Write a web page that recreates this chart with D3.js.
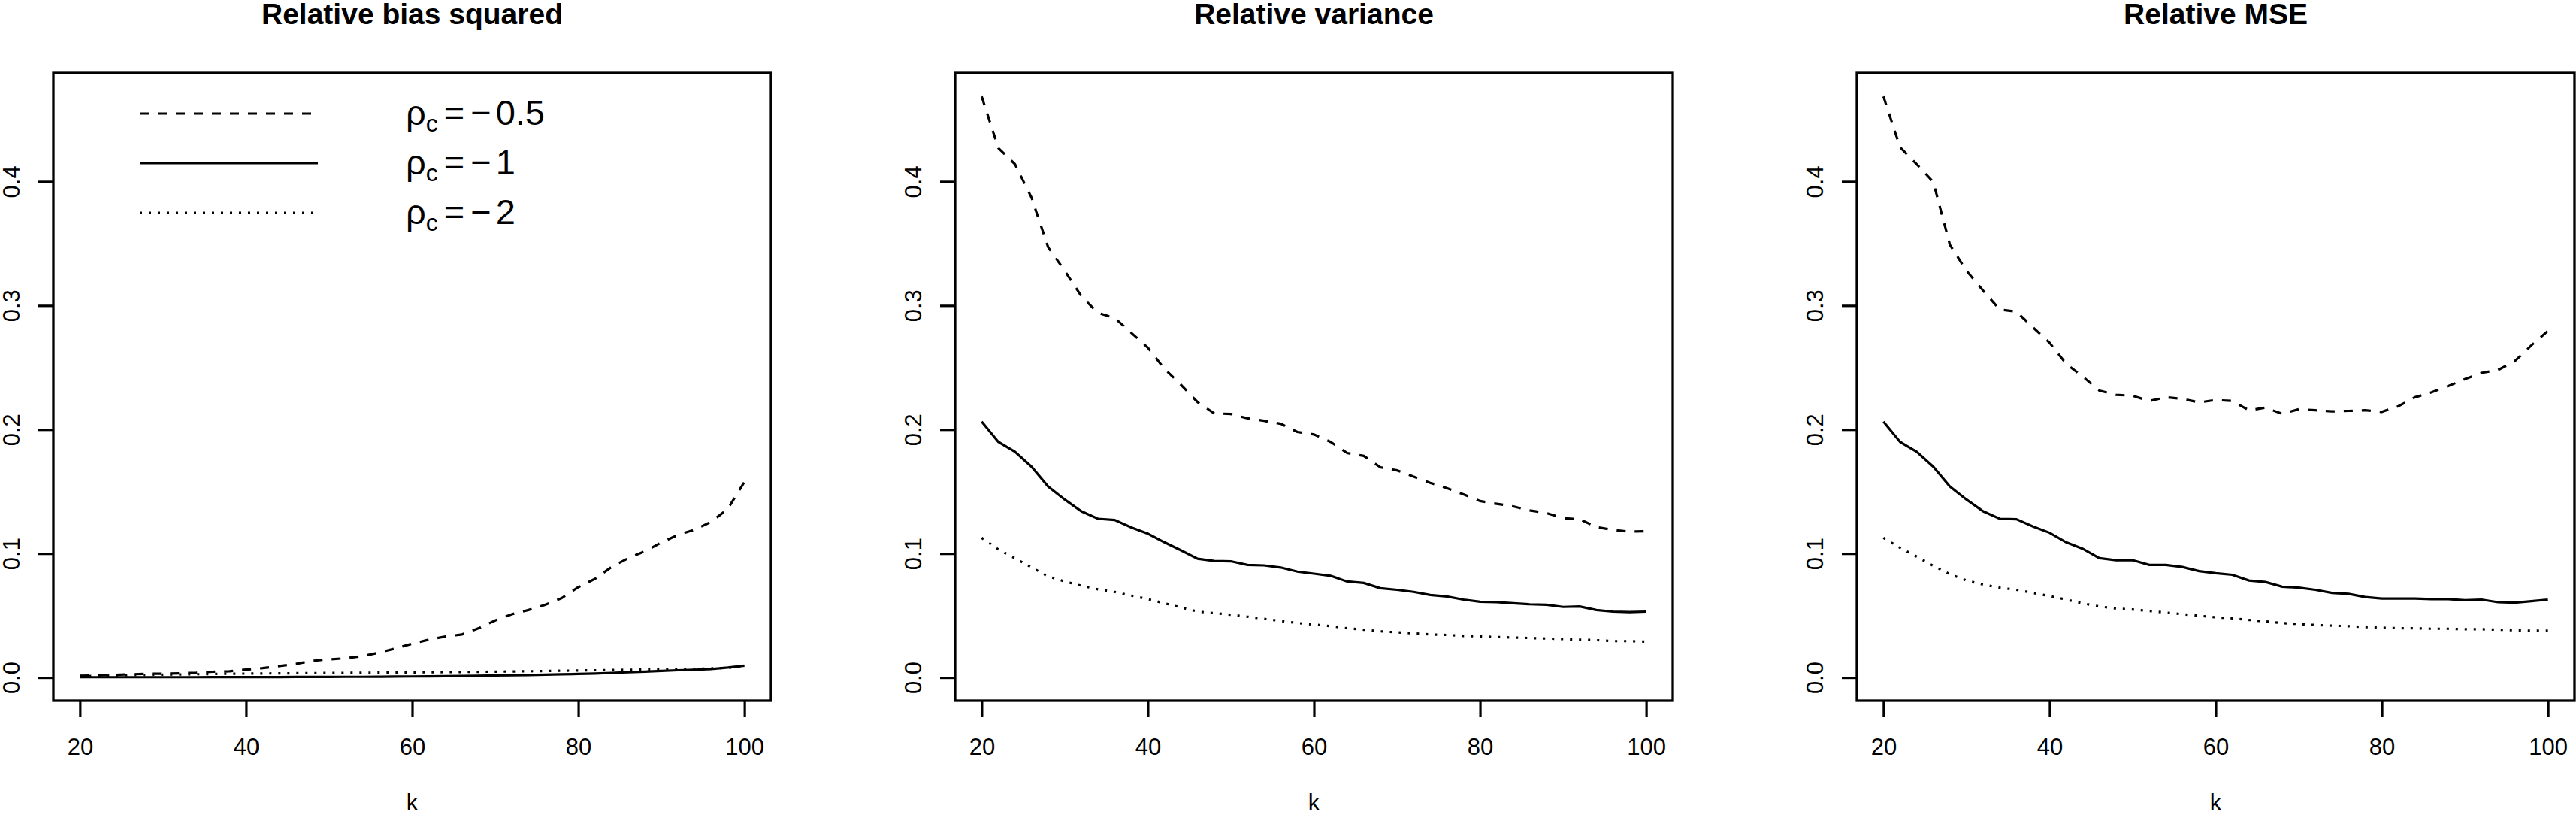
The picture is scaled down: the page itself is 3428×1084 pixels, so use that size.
<!DOCTYPE html>
<html>
<head>
<meta charset="utf-8">
<script src="https://cdnjs.cloudflare.com/ajax/libs/d3/7.8.5/d3.min.js"></script>
<style>
  body { margin: 0; background: #fff; }
  svg { display: block; font-family: "Liberation Sans", Arial, Helvetica, sans-serif; }
</style>
</head>
<body>
<div id="my_dataviz"></div>
<script>
// k values (x axis)
const kValues = [20,22,24,26,28,30,32,34,36,38,40,42,44,46,48,50,52,54,56,58,60,
                 62,64,66,68,70,72,74,76,78,80,82,84,86,88,90,92,94,96,98,100];

// Relative bias squared
const biasHalf = [0.0013,0.0017,0.002,0.0025,0.003,0.003,0.0033,0.0038,0.0046,0.005,0.0063,
  0.0075,0.0092,0.0109,0.0134,0.0146,0.0155,0.0172,0.020,0.0234,0.0272,0.0305,0.033,0.0347,
  0.0397,0.046,0.051,0.0544,0.0586,0.064,0.0728,0.0795,0.0891,0.0962,0.1017,0.1088,0.115,
  0.1192,0.1255,0.136,0.1577];
const biasOne = [0.0002,0.0002,0.0002,0.0002,0.0002,0.0002,0.0002,0.0002,0.0003,0.0003,0.0003,
  0.0003,0.0003,0.0004,0.0004,0.0004,0.0005,0.0005,0.0006,0.0007,0.0008,0.0009,0.001,0.0012,
  0.0014,0.0016,0.0018,0.002,0.0022,0.0025,0.0028,0.0032,0.0037,0.0042,0.0047,0.0053,0.0058,
  0.0062,0.0068,0.008,0.0095];
const biasTwo = [0.001,0.0012,0.0015,0.0018,0.002,0.0022,0.0024,0.0026,0.0028,0.003,0.0031,
  0.0032,0.0033,0.0034,0.0035,0.0036,0.0037,0.0038,0.0039,0.004,0.0041,0.0042,0.0043,0.0044,
  0.0045,0.0047,0.0048,0.005,0.0052,0.0054,0.0056,0.0058,0.006,0.0062,0.0064,0.0066,0.0068,
  0.007,0.0073,0.0078,0.0088];

// Relative variance
const varHalf = [0.4686,0.427,0.414,0.387,0.347,0.328,0.3075,0.294,0.290,0.278,0.266,0.249,
  0.236,0.222,0.213,0.2125,0.209,0.207,0.2046,0.198,0.196,0.190,0.181,0.1787,0.1695,0.167,
  0.162,0.157,0.1527,0.1477,0.1423,0.140,0.138,0.1347,0.1326,0.1285,0.1276,0.1213,0.119,
  0.1176,0.118];
const varOne = [0.2063,0.190,0.182,0.170,0.154,0.1435,0.134,0.128,0.127,0.121,0.116,0.109,
  0.1025,0.0958,0.094,0.0937,0.0908,0.0904,0.0887,0.0854,0.0837,0.082,0.0774,0.0762,0.072,
  0.0707,0.069,0.0665,0.0653,0.0628,0.0611,0.0607,0.0598,0.059,0.0586,0.0569,0.0573,0.0544,
  0.0531,0.0527,0.0531];
const varTwo = [0.1126,0.1033,0.0962,0.0887,0.0816,0.0774,0.074,0.0711,0.069,0.0661,0.0632,
  0.0598,0.0565,0.0531,0.0519,0.0506,0.049,0.0473,0.0456,0.0439,0.0427,0.0414,0.0397,0.0385,
  0.0372,0.0364,0.0356,0.0347,0.0343,0.0335,0.0331,0.0326,0.0322,0.0318,0.0314,0.031,0.0305,
  0.0301,0.0293,0.0293,0.0289];

// Relative MSE
const mseHalf = [0.4686,0.4276,0.414,0.3996,0.349,0.328,0.312,0.2967,0.295,0.2824,0.270,0.253,
  0.2427,0.2314,0.228,0.2272,0.223,0.226,0.2247,0.2218,0.2238,0.223,0.2155,0.2176,0.2126,
  0.2163,0.2155,0.2146,0.215,0.2155,0.2142,0.2188,0.226,0.230,0.235,0.2406,0.2456,0.248,
  0.255,0.2678,0.2795];
const mseOne = [0.2063,0.190,0.182,0.170,0.154,0.1435,0.134,0.128,0.1276,0.1218,0.1167,0.109,
  0.1038,0.0962,0.0946,0.0946,0.0908,0.0908,0.0891,0.0858,0.0841,0.0828,0.0782,0.077,0.0732,
  0.0724,0.0707,0.0682,0.0674,0.0649,0.0636,0.0636,0.0636,0.0632,0.0632,0.0623,0.0628,0.0607,
  0.0603,0.0615,0.0628];
const mseTwo = [0.1126,0.1046,0.0975,0.090,0.0833,0.0782,0.0749,0.0724,0.0707,0.0682,0.0657,
  0.0628,0.0598,0.0573,0.0556,0.0548,0.0536,0.0523,0.051,0.0498,0.0485,0.0477,0.0464,0.0452,
  0.0439,0.0431,0.0423,0.0418,0.0414,0.0406,0.0402,0.0397,0.0397,0.0393,0.0393,0.0389,0.0389,
  0.0385,0.0381,0.0377,0.0377];

const panelTitles = ["Relative bias squared", "Relative variance", "Relative MSE"];
const xTicks = [20, 40, 60, 80, 100];
const yTicks = [0.0, 0.1, 0.2, 0.3, 0.4];
const legendValues = ["0.5", "1", "2"];

const panels = [
  {title: panelTitles[0], series: [biasHalf, biasOne, biasTwo]},
  {title: panelTitles[1], series: [varHalf, varOne, varTwo]},
  {title: panelTitles[2], series: [mseHalf, mseOne, mseTwo]}
];

// line types: dashed, solid, dotted (like R lty 2, 1, 3)
const dashes = ["12,12", null, "3,9"];

const W = 3428, H = 1084;
const boxW = 955, boxTop = 97, boxBottom = 932;
const panelLeft = [71, 1271, 2471];

const svg = d3.select("#my_dataviz")
  .append("svg")
    .attr("width", W)
    .attr("height", H);

panels.forEach(function(p, i) {
  const left = panelLeft[i];
  const x = d3.scaleLinear().domain([16.8, 103.2]).range([left, left + boxW]);
  const y = d3.scaleLinear().domain([-0.01875, 0.48755]).range([boxBottom, boxTop]);

  const g = svg.append("g");

  // title
  g.append("text")
    .attr("x", left + boxW / 2)
    .attr("y", 32)
    .attr("text-anchor", "middle")
    .style("font-size", "39px")
    .style("font-weight", "bold")
    .text(p.title);

  // lines
  p.series.forEach(function(vals, s) {
    g.append("path")
      .datum(vals)
      .attr("fill", "none")
      .attr("stroke", "#000")
      .attr("stroke-width", 3.2)
      .attr("stroke-dasharray", dashes[s])
      .attr("d", d3.line()
        .x(function(d, j) { return x(kValues[j]); })
        .y(function(d) { return y(d); }));
  });

  // x axis
  const xAxis = g.append("g")
    .attr("transform", `translate(0,${boxBottom})`)
    .call(d3.axisBottom(x).tickValues(xTicks).tickSize(21).tickFormat(d3.format("d")));
  xAxis.select(".domain").remove();
  xAxis.selectAll("line").attr("stroke-width", 3.2);
  xAxis.selectAll("text")
    .attr("y", 72).attr("dy", null)
    .style("font-size", "31px")
    .attr("font-family", null);

  // y axis (labels rotated like R's default las = 0)
  const yAxis = g.append("g")
    .attr("transform", `translate(${left},0)`)
    .call(d3.axisLeft(y).tickValues(yTicks).tickSize(20).tickFormat(d3.format(".1f")));
  yAxis.select(".domain").remove();
  yAxis.selectAll("line").attr("stroke-width", 3.2);
  yAxis.selectAll("text")
    .attr("x", null).attr("dy", null)
    .attr("text-anchor", "middle")
    .attr("transform", "translate(-45,0) rotate(-90)")
    .style("font-size", "31px")
    .attr("font-family", null);

  // x label
  g.append("text")
    .attr("x", left + boxW / 2)
    .attr("y", 1078)
    .attr("text-anchor", "middle")
    .style("font-size", "31px")
    .text("k");

  // box
  g.append("rect")
    .attr("x", left).attr("y", boxTop)
    .attr("width", boxW).attr("height", boxBottom - boxTop)
    .attr("fill", "none")
    .attr("stroke", "#000")
    .attr("stroke-width", 3.3);
});

// legend in first panel
const legendY = [151, 217, 283];
const leg = svg.append("g");
legendValues.forEach(function(v, i) {
  leg.append("line")
    .attr("x1", 186).attr("x2", 423)
    .attr("y1", legendY[i]).attr("y2", legendY[i])
    .attr("stroke", "#000")
    .attr("stroke-width", 3.2)
    .attr("stroke-dasharray", dashes[i]);

  const t = leg.append("text")
    .attr("x", 540)
    .attr("y", legendY[i] + 15)
    .style("font-size", "47px");
  t.append("tspan").text("ρ");
  t.append("tspan").attr("dy", 9).style("font-size", "32px").text("c");
  t.append("tspan").attr("dy", -9).attr("dx", 8).text("=");
  t.append("tspan").attr("dx", 8).text("−");
  t.append("tspan").attr("dx", 6).text(v);
});
</script>
</body>
</html>
